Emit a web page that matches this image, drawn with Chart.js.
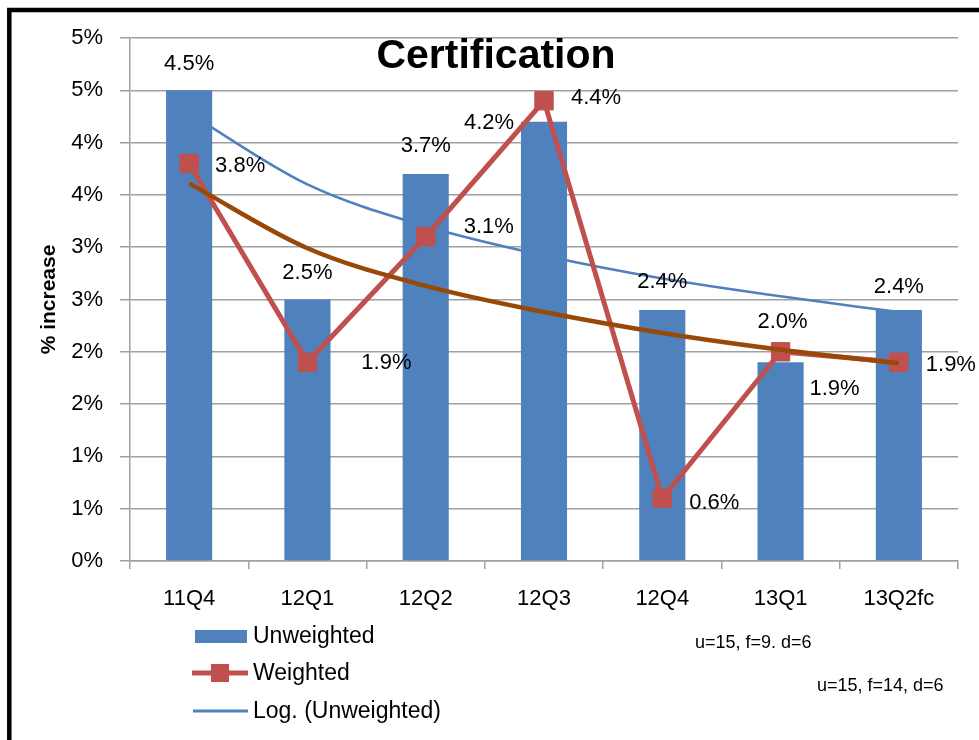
<!DOCTYPE html>
<html>
<head>
<meta charset="utf-8">
<title>Certification</title>
<script src="https://cdn.jsdelivr.net/npm/chart.js@4.4.1/dist/chart.umd.min.js"></script>
<style>
  html, body { margin: 0; padding: 0; background: #fff; }
  #wrap { width: 979px; height: 740px; }
</style>
</head>
<body>
<div id="wrap"><canvas id="certChart" width="979" height="740"></canvas></div>
<script>
// quarters along the bottom
var quarters = ['11Q4', '12Q1', '12Q2', '12Q3', '12Q4', '13Q1', '13Q2fc'];
// % increase per quarter
var unweighted = [4.5, 2.5, 3.7, 4.2, 2.4, 1.9, 2.4];
var weighted = [3.8, 1.9, 3.1, 4.4, 0.6, 2.0, 1.9];
// log trendlines, value at each quarter
var logUnweighted = [4.28, 3.60, 3.20, 2.92, 2.70, 2.53, 2.38];
var logWeighted = [3.61, 2.99, 2.63, 2.38, 2.18, 2.02, 1.89];
// ticks every half percent, printed rounded to whole percent
var yTickLabels = ['0%', '1%', '1%', '2%', '2%', '3%', '3%', '4%', '4%', '5%', '5%'];
var legendNames = ['Unweighted', 'Weighted', 'Log. (Unweighted)'];
var notes = ['u=15, f=9. d=6', 'u=15, f=14, d=6'];

// where each value label sits relative to its bar top / marker
var barLabelShift = [[0, -26], [0, -27], [0, -28], [-55, 1], [0, -28], [54, 27], [0, -23]];
var lineLabelShift = [[51, 2], [79, 1], [63, -10], [52, -3], [52, 5], [2, -30], [52, 3]];

var BLUE = '#4F81BD';
var RED = '#C0504D';
var BROWN = '#984807';
var GRID = '#a0a0a0';
var FONT = '"Liberation Sans", Arial, sans-serif';

var decorations = {
    id: 'decorations',
    afterDatasetsDraw: function (chart) {
        var ctx = chart.ctx;
        ctx.save();
        ctx.font = '22px ' + FONT;
        ctx.fillStyle = '#000';
        ctx.textAlign = 'center';
        ctx.textBaseline = 'middle';
        chart.getDatasetMeta(0).data.forEach(function (bar, i) {
            ctx.fillText(unweighted[i].toFixed(1) + '%', bar.x + barLabelShift[i][0], bar.y + barLabelShift[i][1]);
        });
        chart.getDatasetMeta(1).data.forEach(function (pt, i) {
            ctx.fillText(weighted[i].toFixed(1) + '%', pt.x + lineLabelShift[i][0], pt.y + lineLabelShift[i][1]);
        });
        ctx.restore();
    },
    afterDraw: function (chart) {
        var ctx = chart.ctx;
        ctx.save();

        // title sits inside the plot, under the top gridline
        ctx.fillStyle = '#000';
        ctx.font = 'bold 41px ' + FONT;
        ctx.textAlign = 'center';
        ctx.textBaseline = 'alphabetic';
        ctx.fillText('Certification', 496, 68);

        // legend, one entry per row
        ctx.fillStyle = BLUE;
        ctx.fillRect(195, 630, 52, 13);

        ctx.strokeStyle = RED;
        ctx.lineWidth = 5;
        ctx.beginPath();
        ctx.moveTo(192, 673);
        ctx.lineTo(248, 673);
        ctx.stroke();
        ctx.fillStyle = RED;
        ctx.fillRect(211, 664, 18, 18);

        ctx.strokeStyle = BLUE;
        ctx.lineWidth = 3;
        ctx.beginPath();
        ctx.moveTo(193, 711);
        ctx.lineTo(248, 711);
        ctx.stroke();

        ctx.fillStyle = '#000';
        ctx.font = '23px ' + FONT;
        ctx.textAlign = 'left';
        ctx.textBaseline = 'middle';
        ctx.fillText(legendNames[0], 253, 637);
        ctx.fillText(legendNames[1], 253, 674);
        ctx.fillText(legendNames[2], 253, 712);

        // sample notes
        ctx.font = '18px ' + FONT;
        ctx.fillText(notes[0], 695, 643);
        ctx.fillText(notes[1], 817, 686);

        // black frame round the chart object
        ctx.strokeStyle = '#000';
        ctx.lineWidth = 4.5;
        ctx.strokeRect(9.3, 10, 1100, 900);

        ctx.restore();
    }
};

var ctx = document.getElementById('certChart').getContext('2d');
var chart = new Chart(ctx, {
    type: 'bar',
    data: {
        labels: quarters,
        datasets: [{
            type: 'bar',
            label: legendNames[0],
            data: unweighted,
            backgroundColor: BLUE,
            borderWidth: 0,
            barPercentage: 0.39,
            categoryPercentage: 1,
            order: 3
        }, {
            type: 'line',
            label: legendNames[1],
            data: weighted,
            borderColor: RED,
            backgroundColor: RED,
            borderWidth: 5,
            pointStyle: 'rect',
            pointRadius: 13,
            pointBorderWidth: 1,
            pointBorderColor: RED,
            pointBackgroundColor: RED,
            tension: 0,
            fill: false,
            order: 2
        }, {
            type: 'line',
            label: legendNames[2],
            data: logUnweighted,
            borderColor: BLUE,
            borderWidth: 2.5,
            pointRadius: 0,
            cubicInterpolationMode: 'monotone',
            fill: false,
            order: 4
        }, {
            type: 'line',
            label: 'Log. (Weighted)',
            data: logWeighted,
            borderColor: BROWN,
            borderWidth: 4.5,
            pointRadius: 0,
            cubicInterpolationMode: 'monotone',
            fill: false,
            order: 1
        }]
    },
    options: {
        responsive: false,
        animation: false,
        devicePixelRatio: 1,
        layout: {
            padding: { left: 0, top: 38, right: 21, bottom: 0 }
        },
        plugins: {
            legend: { display: false },
            tooltip: { enabled: false },
            title: { display: false }
        },
        scales: {
            x: {
                grid: {
                    display: true,
                    drawOnChartArea: false,
                    drawTicks: true,
                    tickLength: 8,
                    color: GRID,
                    lineWidth: 1.5
                },
                border: { display: true, color: GRID, width: 1.5 },
                ticks: {
                    color: '#000',
                    font: { family: FONT, size: 22 },
                    padding: 17,
                    maxRotation: 0,
                    autoSkip: false
                },
                afterFit: function (scale) { scale.height = 179; }
            },
            y: {
                min: 0,
                max: 5,
                ticks: {
                    stepSize: 0.5,
                    color: '#000',
                    font: { family: FONT, size: 22 },
                    padding: 17,
                    callback: function (value, index) { return yTickLabels[index]; }
                },
                grid: {
                    color: GRID,
                    lineWidth: 1.5,
                    drawTicks: true,
                    tickLength: 10
                },
                border: { display: true, color: GRID, width: 1.5 },
                title: {
                    display: true,
                    text: '% increase',
                    color: '#000',
                    font: { family: FONT, size: 21, weight: 'bold' },
                    padding: { top: 37, bottom: 0 }
                },
                afterFit: function (scale) { scale.width = 130; }
            }
        }
    },
    plugins: [decorations]
});
</script>
</body>
</html>
